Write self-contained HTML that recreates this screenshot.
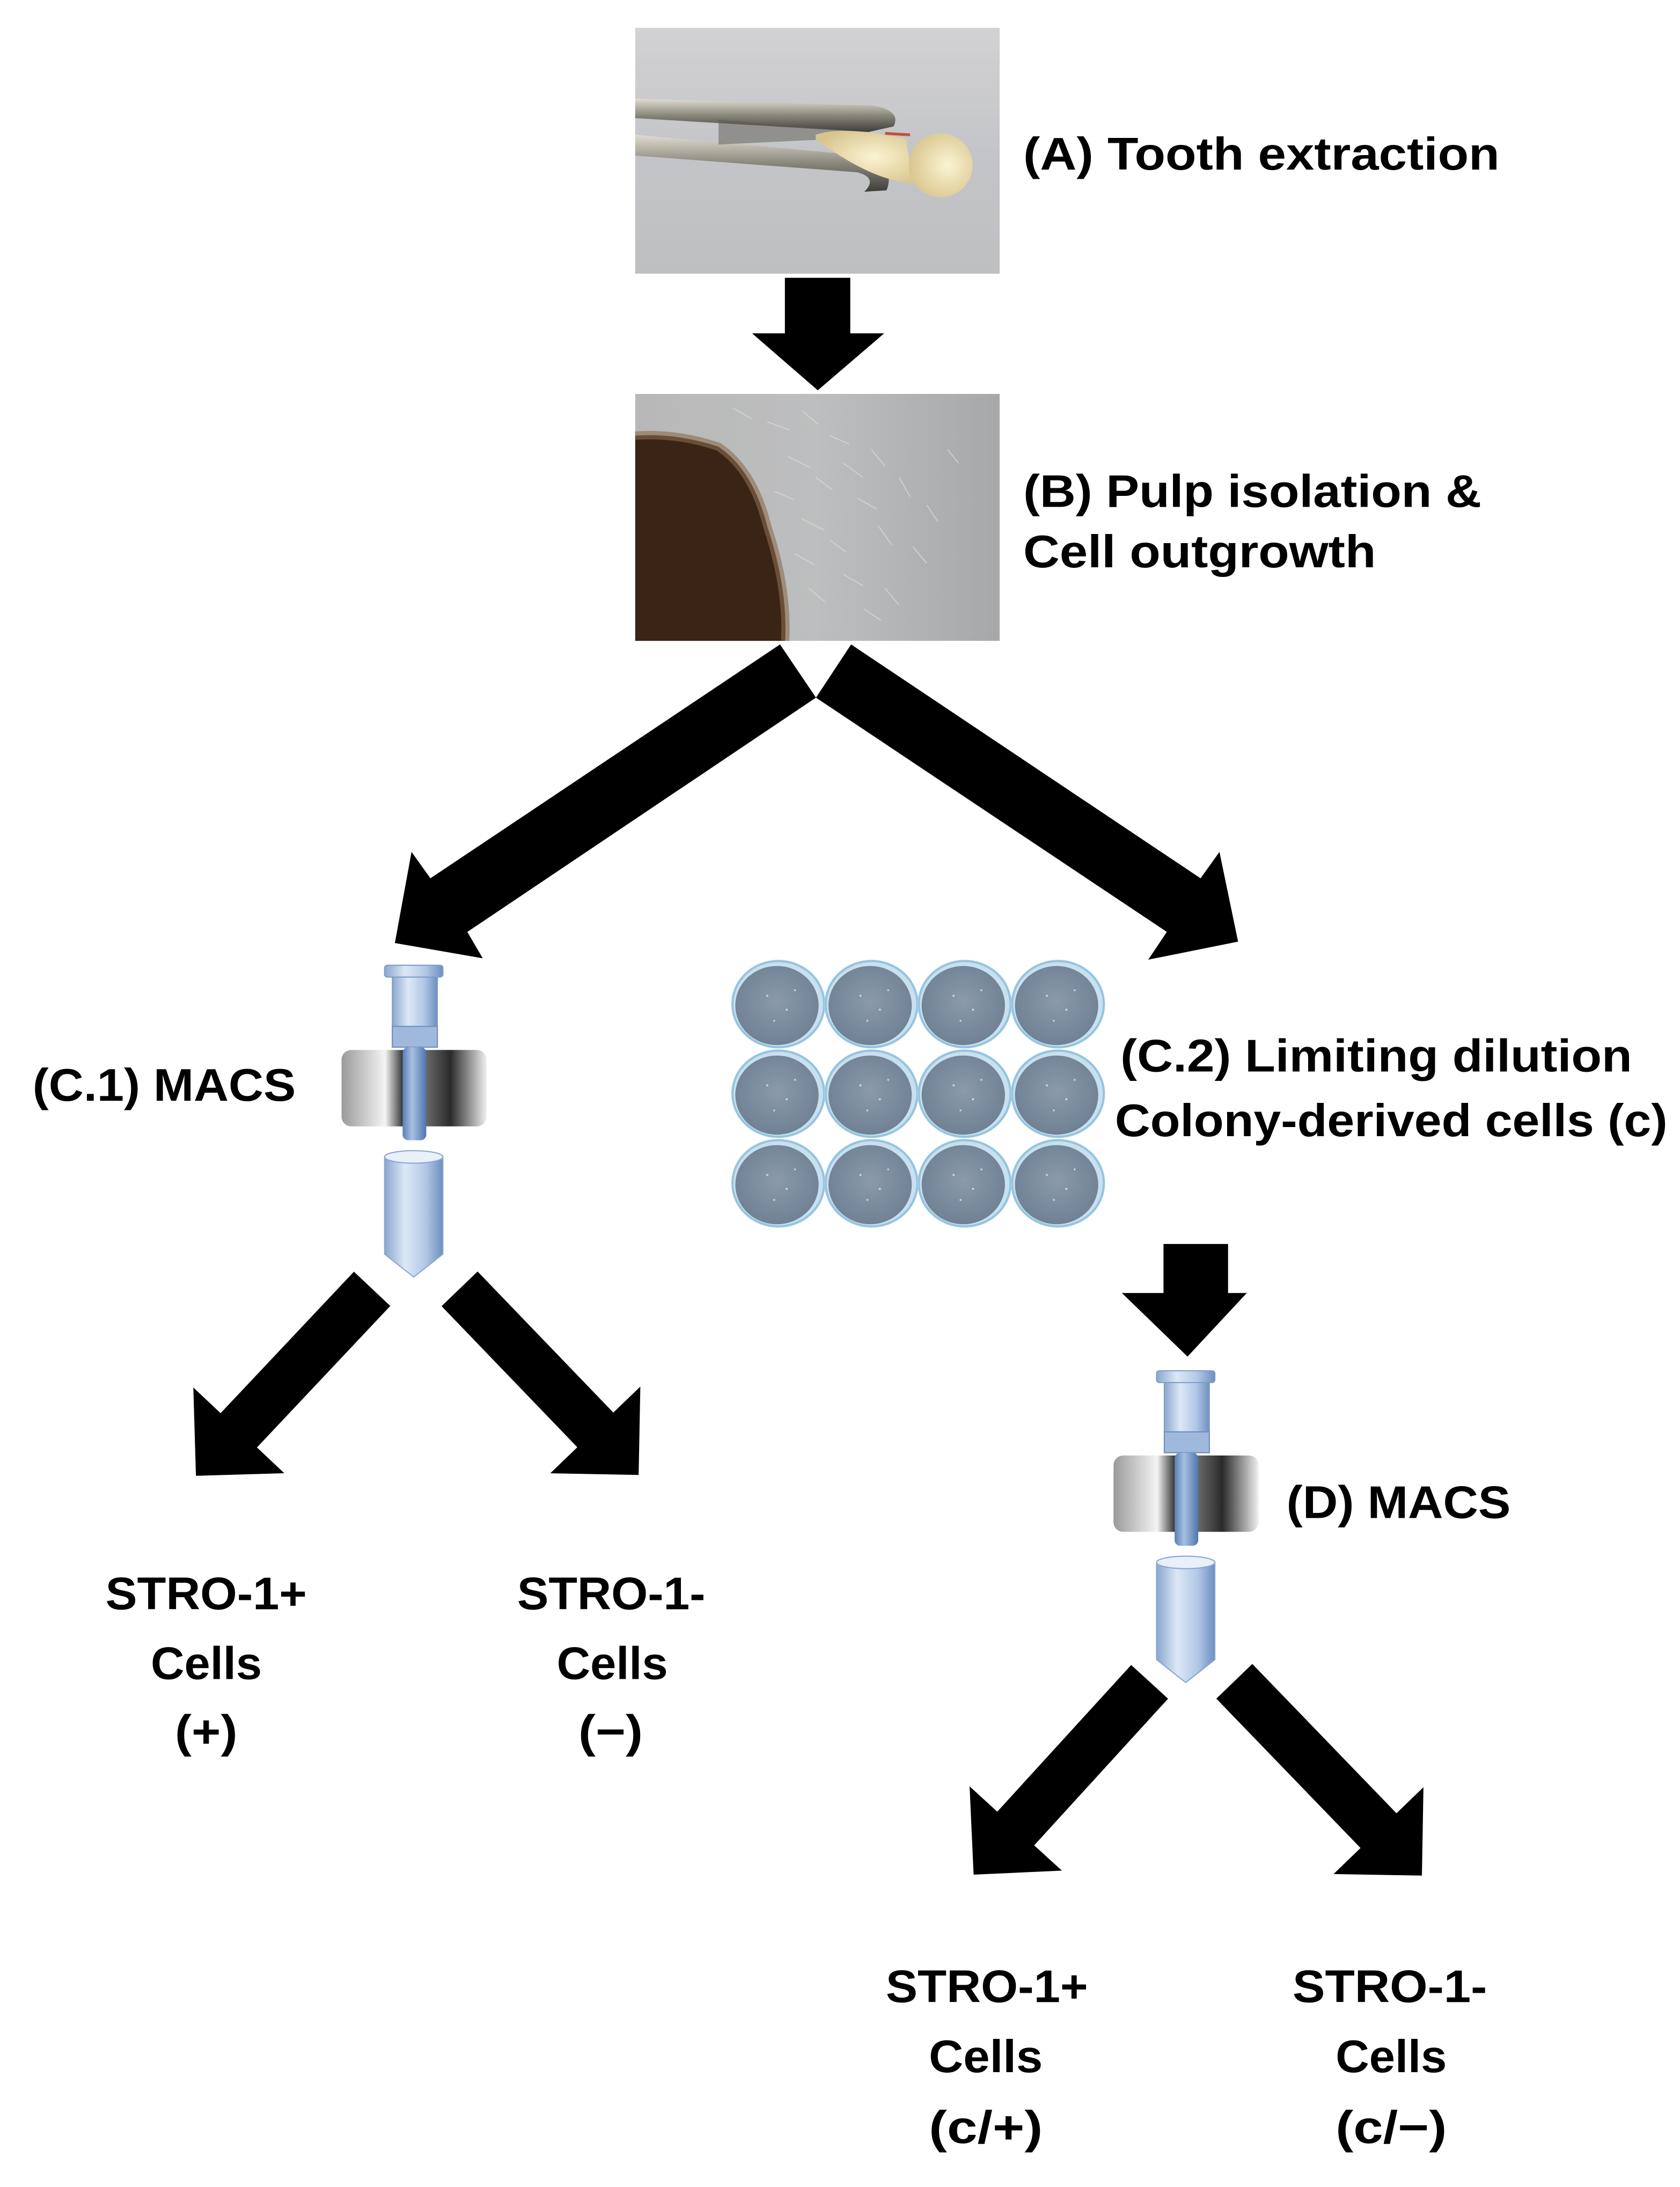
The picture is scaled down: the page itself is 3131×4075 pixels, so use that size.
<!DOCTYPE html>
<html><head><meta charset="utf-8"><style>
html,body{margin:0;padding:0;background:#fff;}
svg{display:block;}
text{font-family:"Liberation Sans",sans-serif;font-weight:bold;fill:#000;}
</style></head><body>
<svg width="3131" height="4075" viewBox="0 0 1210 1574.7" xmlns="http://www.w3.org/2000/svg">
<defs>
<linearGradient id="bgA" x1="0" y1="0" x2="0" y2="1"><stop offset="0" stop-color="#d2d2d4"/><stop offset="0.5" stop-color="#c4c5c8"/><stop offset="1" stop-color="#bebfc1"/></linearGradient>
<linearGradient id="metal" x1="0" y1="0" x2="0" y2="1"><stop offset="0" stop-color="#e0ddd0"/><stop offset="0.5" stop-color="#8a877c"/><stop offset="1" stop-color="#3e3e3a"/></linearGradient>
<radialGradient id="tooth" cx="0.6" cy="0.5" r="0.6"><stop offset="0" stop-color="#fbf3d2"/><stop offset="1" stop-color="#d9c68f"/></radialGradient>
<linearGradient id="bgB" x1="0" y1="0" x2="1" y2="0"><stop offset="0" stop-color="#b8b8b8"/><stop offset="0.5" stop-color="#bdbebf"/><stop offset="1" stop-color="#a6a8aa"/></linearGradient>
<linearGradient id="mag" x1="0" y1="0" x2="1" y2="0"><stop offset="0" stop-color="#9a9a9a"/><stop offset="0.3" stop-color="#f4f4f4"/><stop offset="0.42" stop-color="#3a3a3a"/><stop offset="0.58" stop-color="#6a6a6a"/><stop offset="0.75" stop-color="#2a2a2a"/><stop offset="1" stop-color="#f0f0f0"/></linearGradient>
<linearGradient id="tube" x1="0" y1="0" x2="1" y2="0"><stop offset="0" stop-color="#8aa6cf"/><stop offset="0.35" stop-color="#dce8f6"/><stop offset="0.7" stop-color="#b3c8e6"/><stop offset="1" stop-color="#6d8fc0"/></linearGradient>
<linearGradient id="stem" x1="0" y1="0" x2="1" y2="0"><stop offset="0" stop-color="#5a7fb4"/><stop offset="0.4" stop-color="#a7c0e2"/><stop offset="1" stop-color="#4f76ad"/></linearGradient>
<radialGradient id="dish" cx="0.5" cy="0.45" r="0.6"><stop offset="0" stop-color="#8a9aaa"/><stop offset="1" stop-color="#6d7f92"/></radialGradient>
<g id="macs">
  <rect x="802" y="1048" width="104.5" height="55" rx="7" fill="url(#mag)"/>
  <rect x="838.6" y="994" width="32.4" height="52" fill="url(#tube)" stroke="#7f9cc6" stroke-width="0.8"/>
  <rect x="838.6" y="1031" width="32.4" height="15" fill="#9fb8dc" stroke="#6f8fbf" stroke-width="0.8"/>
  <rect x="833" y="987" width="42" height="8.5" rx="2" fill="url(#tube)" stroke="#7f9cc6" stroke-width="0.8"/>
  <rect x="846" y="1046" width="17" height="67" rx="4" fill="url(#stem)"/>
  <path d="M833 1125 L833 1195 L854 1211.5 L875 1195 L875 1125 Z" fill="url(#tube)" stroke="#8aa6cf" stroke-width="0.8"/>
  <ellipse cx="854" cy="1125" rx="21" ry="4.5" fill="#e8f0fa" stroke="#8aa6cf" stroke-width="0.8"/>
</g>
<g id="dishg">
  <ellipse cx="0" cy="0" rx="34" ry="32" fill="#c9e0ef"/>
  <ellipse cx="0" cy="0" rx="33" ry="31" fill="none" stroke="#94c4e0" stroke-width="1.5"/>
  <ellipse cx="-1" cy="1" rx="30" ry="28.5" fill="url(#dish)"/>
  <circle cx="-8" cy="-6" r="0.8" fill="#c8d2dc"/><circle cx="6" cy="4" r="0.8" fill="#c8d2dc"/><circle cx="-3" cy="12" r="0.7" fill="#c8d2dc"/><circle cx="12" cy="-10" r="0.7" fill="#c8d2dc"/>
</g>
</defs>

<!-- Photo A -->
<g transform="translate(457.5,20)">
  <rect x="0" y="0" width="262.5" height="177" fill="url(#bgA)"/>
  <path d="M0 51 L172 56 Q192 60 186 71 L168 75 L0 65 Z" fill="url(#metal)"/>
  <path d="M0 77 L165 92 Q188 100 181 117 L165 118 Q175 108 160 104 L0 92 Z" fill="url(#metal)"/>
  <path d="M60 66 L165 75 L165 79 L60 84 Z" fill="#5c5a52" opacity="0.5"/>
  <path d="M130 77 Q150 70 195 80 L200 112 Q170 110 130 80 Z" fill="url(#tooth)"/>
  <ellipse cx="220" cy="99" rx="23" ry="23" fill="url(#tooth)"/>
  <path d="M180 76 L198 77" stroke="#c0503a" stroke-width="2"/>
</g>

<!-- Photo B -->
<g transform="translate(457.5,283.6)">
  <rect x="0" y="0" width="262.5" height="177.8" fill="url(#bgB)"/>
  <g stroke="#d8d9da" stroke-width="0.8" opacity="0.7" fill="none">
    <path d="M70 10 l14 8 M95 20 l16 6 M120 12 l12 10 M140 30 l14 6 M110 45 l16 8 M130 60 l12 9 M150 50 l14 10 M170 40 l10 12 M160 75 l14 8 M120 90 l16 8 M140 105 l12 9 M175 95 l10 14 M190 60 l8 14 M200 110 l10 12 M150 130 l14 8 M125 140 l12 10 M180 140 l10 12 M210 80 l8 12 M225 40 l8 10 M100 70 l14 6 M115 115 l14 8 M165 155 l12 8"/>
  </g>
  <path d="M0 30 Q30 28 60 38 Q85 55 95 95 Q110 140 108 177.8 L0 177.8 Z" fill="#3a2416"/>
  <path d="M0 30 Q30 28 60 38 Q85 55 95 95 Q110 140 108 177.8" fill="none" stroke="#8a6a4e" stroke-width="6" opacity="0.6"/>
</g>

<!-- Arrow A to B -->
<polygon points="565.3,200 612.4,200 612.4,240 636.8,240 589,281 541.7,240 565.3,240" fill="#000"/>

<!-- Big split arrows -->
<polygon points="561.8,464 310,632.4 296.4,613.4 284.4,679 347.7,690 336.6,671 587.7,502.3" fill="#000"/>
<polygon points="613,464 864.7,632.4 878.3,613.4 891.7,678 827,691 840.4,671 587.7,502.3" fill="#000"/>

<!-- Arrow C.2 to D -->
<polygon points="838,895.7 884.5,895.7 884.5,931 898,931 855.3,976.8 808,931 838,931" fill="#000"/>

<use href="#macs"/>
<use href="#macs" transform="translate(-556,-292)"/>

<g>
<use href="#dishg" x="560.6" y="723"/><use href="#dishg" x="627.7" y="723"/><use href="#dishg" x="694.8" y="723"/><use href="#dishg" x="762" y="723"/>
<use href="#dishg" x="560.6" y="787.5"/><use href="#dishg" x="627.7" y="787.5"/><use href="#dishg" x="694.8" y="787.5"/><use href="#dishg" x="762" y="787.5"/>
<use href="#dishg" x="560.6" y="852"/><use href="#dishg" x="627.7" y="852"/><use href="#dishg" x="694.8" y="852"/><use href="#dishg" x="762" y="852"/>
</g>

<g fill="#000">
<polygon transform="translate(268,928) rotate(133.3)" points="0,-18 140,-18 140,-45 185,0 140,45 140,18 0,18"/>
<polygon transform="translate(331,928) rotate(46.1)" points="0,-18 141,-18 141,-45 186,0 141,45 141,18 0,18"/>
<polygon transform="translate(828,1211) rotate(132.4)" points="0,-18 143,-18 143,-45 188,0 143,45 143,18 0,18"/>
<polygon transform="translate(889,1210.6) rotate(46)" points="0,-18 149.5,-18 149.5,-45 194.5,0 149.5,45 149.5,18 0,18"/>
</g>

<g font-size="33">
<text x="737" y="122" textLength="343" lengthAdjust="spacingAndGlyphs">(A) Tooth extraction</text>
<text x="737" y="365" textLength="330" lengthAdjust="spacingAndGlyphs">(B) Pulp isolation &amp;</text>
<text x="737" y="408.5" textLength="254" lengthAdjust="spacingAndGlyphs">Cell outgrowth</text>
<text x="23.5" y="792.5" textLength="189.5" lengthAdjust="spacingAndGlyphs">(C.1) MACS</text>
<text x="807" y="771.6" textLength="368.5" lengthAdjust="spacingAndGlyphs">(C.2) Limiting dilution</text>
<text x="803" y="818" textLength="398" lengthAdjust="spacingAndGlyphs">Colony-derived cells (c)</text>
<text x="926.6" y="1093" textLength="161.4" lengthAdjust="spacingAndGlyphs">(D) MACS</text>

<text x="76" y="1158.8" textLength="145" lengthAdjust="spacingAndGlyphs">STRO-1+</text>
<text x="108.6" y="1209" textLength="80" lengthAdjust="spacingAndGlyphs">Cells</text>
<text x="126" y="1258" textLength="45" lengthAdjust="spacingAndGlyphs">(+)</text>
<text x="372.5" y="1158.8" textLength="135.5" lengthAdjust="spacingAndGlyphs">STRO-1-</text>
<text x="401" y="1209" textLength="80" lengthAdjust="spacingAndGlyphs">Cells</text>
<text x="416.6" y="1258" textLength="46.4" lengthAdjust="spacingAndGlyphs">(−)</text>

<text x="638" y="1441.6" textLength="145.6" lengthAdjust="spacingAndGlyphs">STRO-1+</text>
<text x="669" y="1492" textLength="82" lengthAdjust="spacingAndGlyphs">Cells</text>
<text x="669" y="1543" textLength="82" lengthAdjust="spacingAndGlyphs">(c/+)</text>
<text x="931" y="1441.6" textLength="140" lengthAdjust="spacingAndGlyphs">STRO-1-</text>
<text x="962" y="1492" textLength="80" lengthAdjust="spacingAndGlyphs">Cells</text>
<text x="962" y="1543" textLength="80" lengthAdjust="spacingAndGlyphs">(c/−)</text>
</g>
</svg>
</body></html>
